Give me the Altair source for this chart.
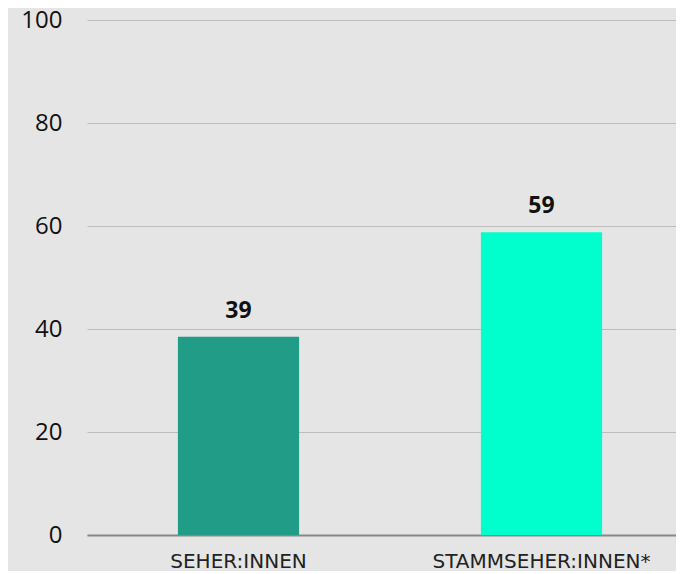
import altair as alt
import pandas as pd

categories = ["SEHER:INNEN", "STAMMSEHER:INNEN*"]
values = [38.5, 58.8]
labels = ["39", "59"]
colors = ["#219c87", "#00ffcc"]

df = pd.DataFrame({"cat": categories, "val": values, "label": labels, "color": colors})

FONT = "Open Sans"

x = alt.X("cat:N", sort=categories, title=None,
          scale=alt.Scale(paddingInner=0.6, paddingOuter=0.3, range=[0, 606]),
          axis=alt.Axis(labelAngle=0, labelFontSize=20, labelFont="DejaVu Sans", labelColor="#222",
                        ticks=False, labelPadding=16, labelLimit=0,
                        domainColor="#888888", domainWidth=2, grid=False))
y = alt.Y("val:Q", title=None,
          scale=alt.Scale(domain=[0, 100]),
          axis=alt.Axis(values=[0, 20, 40, 60, 80, 100], labelFontSize=24, labelFont=FONT,
                        labelColor="#111", ticks=False, domain=False, labelPadding=25,
                        gridColor="#bdbdbd", gridWidth=1))

bars = alt.Chart(df).mark_bar().encode(
    x=x, y=y, color=alt.Color("color:N", scale=None)
)
text = alt.Chart(df).mark_text(dy=-14, fontSize=23, fontWeight="bold", font=FONT,
                               color="#111", baseline="bottom").encode(
    x=alt.X("cat:N", sort=categories), y="val:Q", text="label:N"
)

chart = (bars + text).properties(
    width=589, height=515,
    background="#e5e5e5",
    padding={"left": 79, "top": 12, "right": 0, "bottom": 36},
    autosize=alt.AutoSizeParams(type="none"),
).configure_view(stroke=None)

chart.save("out.html", embed_options={"renderer": "svg", "actions": False})
